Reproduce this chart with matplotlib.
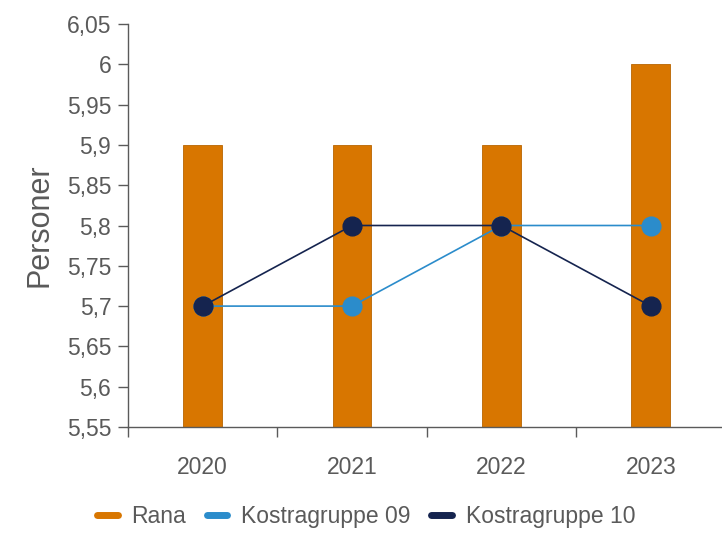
import matplotlib
matplotlib.use("Agg")
import matplotlib.pyplot as plt
from matplotlib.lines import Line2D
from matplotlib.ticker import FixedLocator

plt.rcParams['font.family'] = ['Liberation Sans', 'DejaVu Sans']

years = ["2020", "2021", "2022", "2023"]
rana = [5.9, 5.9, 5.9, 6.0]
kostra09 = [5.7, 5.7, 5.8, 5.8]
kostra10 = [5.7, 5.8, 5.8, 5.7]
yticks = [5.55, 5.6, 5.65, 5.7, 5.75, 5.8, 5.85, 5.9, 5.95, 6.0, 6.05]
ytick_labels = ["5,55", "5,6", "5,65", "5,7", "5,75", "5,8", "5,85", "5,9", "5,95", "6", "6,05"]

c_rana = "#d87600"
c_09 = "#2b8ccb"
c_10 = "#15244f"
gray = "#5a5a5a"

fig = plt.figure(figsize=(7.22, 5.34), dpi=100)
ax = fig.add_axes([128/722, 1-427/534, (725.5-128)/722, (427-24)/534])

x = list(range(len(years)))
ax.bar(x, [r - 5.55 for r in rana], bottom=5.55, width=0.26, color=c_rana,
       edgecolor="#b86400", linewidth=0.6, zorder=2)
ax.plot(x, kostra09, color=c_09, lw=1.2, marker="o", markersize=13.5, zorder=3)
ax.plot(x, kostra10, color=c_10, lw=1.2, marker="o", markersize=13.5, zorder=4)

ax.set_xlim(-0.5, 3.5)
ax.set_ylim(5.55, 6.05)
ax.set_yticks(yticks)
ax.set_yticklabels(ytick_labels)
ax.set_xticks(x)
ax.set_xticklabels(years)
ax.xaxis.set_minor_locator(FixedLocator([-0.5, 0.5, 1.5, 2.5, 3.5]))
ax.tick_params(axis="x", which="major", length=0, pad=21, labelsize=16.5, labelcolor=gray)
ax.tick_params(axis="x", which="minor", length=7, color=gray, width=1)
ax.tick_params(axis="y", length=7, color=gray, width=1, labelsize=16.5, labelcolor=gray, pad=5)
for s in ["top", "right"]:
    ax.spines[s].set_visible(False)
for s in ["left", "bottom"]:
    ax.spines[s].set_color(gray)
    ax.spines[s].set_linewidth(1)

ax.set_ylabel("Personer", fontsize=22, color=gray, labelpad=9)

handles = [Line2D([], [], color=c_rana, lw=5, solid_capstyle="round"),
           Line2D([], [], color=c_09, lw=5, solid_capstyle="round"),
           Line2D([], [], color=c_10, lw=5, solid_capstyle="round")]
fig.legend(handles, ["Rana", "Kostragruppe 09", "Kostragruppe 10"],
           loc="center", bbox_to_anchor=(0.507, 0.032), ncol=3, frameon=False,
           fontsize=16.5, labelcolor=gray, handlelength=0.9, handletextpad=0.6,
           columnspacing=0.9)

fig.savefig("out.png", dpi=100)
